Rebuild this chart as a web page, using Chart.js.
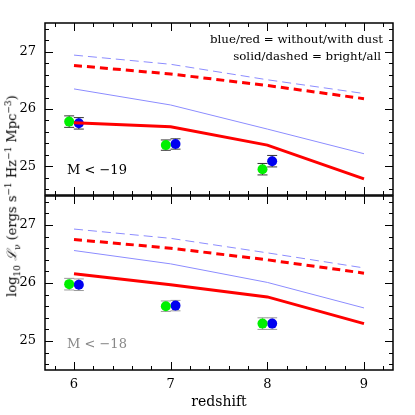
<!DOCTYPE html>
<html>
<head>
<meta charset="utf-8">
<script src="https://cdn.jsdelivr.net/npm/chart.js@4.4.1/dist/chart.umd.min.js"></script>
<style>
	body { margin: 0; background: #fff; }
	#wrap { position: relative; width: 415px; height: 415px; overflow: hidden; }
	canvas { position: absolute; left: 0; }
	#ylabel {
		position: absolute; left: 12px; top: 196px;
		transform: translate(-50%, -50%) rotate(-90deg);
		white-space: nowrap; font: 13px 'DejaVu Serif'; color: #000;
	}
	#ylabel sub, #ylabel sup { font-size: 9px; }
</style>
</head>
<body>
<div id="wrap">
	<canvas id="top" width="415" height="200" style="top:0"></canvas>
	<canvas id="bottom" width="415" height="225" style="top:190px"></canvas>
	<div id="ylabel">log<sub>10</sub> <i>ℒ</i><sub>ν</sub> (ergs s<sup>−1</sup> Hz<sup>−1</sup> Mpc<sup>−3</sup>)</div>
</div>
<script>
const redshifts = [6, 7, 8, 9]
const xTickValues = [6, 7, 8, 9]
const yTickValues = [25, 26, 27]

// M < -19
const allNoDust19 = [26.94, 26.78, 26.51, 26.27]
const allDust19 = [26.76, 26.61, 26.41, 26.18]
const brightNoDust19 = [26.35, 26.07, 25.65, 25.22]
const brightDust19 = [25.76, 25.69, 25.37, 24.78]

// M < -18
const allNoDust18 = [26.93, 26.77, 26.52, 26.26]
const allDust18 = [26.75, 26.60, 26.40, 26.17]
const brightNoDust18 = [26.56, 26.33, 26.01, 25.57]
const brightDust18 = [26.16, 25.97, 25.76, 25.30]

// наблюдения (зелёные / синие точки)
const greenZ = [5.95, 6.95, 7.95]
const blueZ = [6.05, 7.05, 8.05]
const green19 = [25.78, 25.37, 24.95]
const blue19 = [25.75, 25.39, 25.09]
const green18 = [25.98, 25.60, 25.30]
const blue18 = [25.97, 25.61, 25.30]
const err19 = [0.1, 0.09, 0.1]
const err18 = [0.1, 0.09, 0.1]

const FONT = 'DejaVu Serif'

function pts(xs, ys) {
	return xs.map((x, i) => ({ x, y: ys[i] }))
}

function buildDatasets(allNoDust, allDust, brightNoDust, brightDust, green, blue, err) {
	const line = (data, color, width, dash) => ({
		type: 'line', data: pts(redshifts, data), borderColor: color, borderWidth: width,
		borderDash: dash, pointRadius: 0, fill: false, tension: 0, order: 1,
	})
	const dots = (ys, xs, color) => ({
		type: 'scatter', data: pts(xs, ys), backgroundColor: color, borderColor: color,
		pointRadius: 5, borderWidth: 0, order: 2, errors: err,
	})
	return [
		line(allNoDust, '#8c8cff', 1, [9, 5]),
		line(allDust, '#ff0000', 3, [8, 5]),
		line(brightNoDust, '#8c8cff', 1, []),
		line(brightDust, '#ff0000', 3, []),
		dots(green, greenZ, '#00f000'),
		dots(blue, blueZ, '#0000f0'),
	]
}

// error bars + inward ticks + frame
const decor = {
	id: 'decor',
	beforeDatasetsDraw(chart) {
		const { ctx } = chart
		const { x, y } = chart.scales
		const barColor = chart.options.plugins.decor.barColor
		ctx.save()
		ctx.strokeStyle = barColor
		ctx.lineWidth = 1
		chart.data.datasets.forEach(ds => {
			if (!ds.errors) return
			ds.data.forEach((p, i) => {
				const px = x.getPixelForValue(p.x)
				const y0 = y.getPixelForValue(p.y - ds.errors[i])
				const y1 = y.getPixelForValue(p.y + ds.errors[i])
				ctx.beginPath()
				ctx.moveTo(px, y0); ctx.lineTo(px, y1)
				ctx.moveTo(px - 5, y0); ctx.lineTo(px + 5, y0)
				ctx.moveTo(px - 5, y1); ctx.lineTo(px + 5, y1)
				ctx.stroke()
			})
		})
		ctx.restore()
	},
	afterDraw(chart) {
		const { ctx, chartArea: a } = chart
		const { x, y } = chart.scales
		const opts = chart.options.plugins.decor
		ctx.save()
		ctx.strokeStyle = '#000'
		ctx.lineWidth = 1
		ctx.beginPath()
		for (let v = 5.8; v < 9.25; v += 0.2) {
			const r = Math.round(v * 10) / 10
			const len = Number.isInteger(r) ? 8 : 4
			const px = Math.round(x.getPixelForValue(r)) + 0.5
			ctx.moveTo(px, a.bottom); ctx.lineTo(px, a.bottom - len)
			ctx.moveTo(px, a.top); ctx.lineTo(px, a.top + len)
		}
		for (let v = 24.6; v < 27.45; v += 0.2) {
			const r = Math.round(v * 10) / 10
			const len = Number.isInteger(r) ? 8 : 4
			const py = Math.round(y.getPixelForValue(r)) + 0.5
			ctx.moveTo(a.left, py); ctx.lineTo(a.left + len, py)
			ctx.moveTo(a.right, py); ctx.lineTo(a.right - len, py)
		}
		ctx.stroke()
		ctx.lineWidth = 1.5
		ctx.strokeRect(a.left, a.top, a.right - a.left, a.bottom - a.top)

		opts.texts.forEach(t => {
			ctx.font = `${t.size}px ${FONT}`
			ctx.fillStyle = t.color
			ctx.textAlign = t.align
			ctx.textBaseline = 'middle'
			ctx.fillText(t.text, a.left + t.dx, a.top + t.dy)
		})
		ctx.restore()
	},
}

function noPad(s) {
	s.paddingTop = 0
	s.paddingBottom = 0
	s.paddingLeft = 0
	s.paddingRight = 0
}

function makeChart(id, datasets, padding, showX, barColor, texts) {
	return new Chart(document.getElementById(id), {
		data: { datasets },
		options: {
			responsive: false,
			animation: false,
			layout: { padding },
			plugins: {
				legend: { display: false },
				tooltip: { enabled: false },
				decor: { barColor, texts },
			},
			scales: {
				x: {
					type: 'linear', min: 5.7, max: 9.3,
					grid: { display: false, drawTicks: false },
					border: { display: false },
					afterBuildTicks: s => { s.ticks = xTickValues.map(value => ({ value })) },
					afterFit: s => { s.height = showX ? 45 : 0; noPad(s) },
					ticks: { display: showX, padding: 7, color: '#000', font: { family: FONT, size: 13 } },
					title: {
						display: showX, text: 'redshift', color: '#000',
						font: { family: FONT, size: 14 }, padding: { top: 0, bottom: 4 },
					},
				},
				y: {
					type: 'linear', min: 24.5, max: 27.5,
					grid: { display: false, drawTicks: false },
					border: { display: false },
					afterBuildTicks: s => { s.ticks = yTickValues.map(value => ({ value })) },
					afterFit: s => { s.width = 45; noPad(s) },
					ticks: { padding: 9, color: '#000', font: { family: FONT, size: 13 } },
				},
			},
		},
		plugins: [decor],
	})
}

makeChart('top',
	buildDatasets(allNoDust19, allDust19, brightNoDust19, brightDust19, green19, blue19, err19),
	{ top: 23, right: 22, bottom: 4, left: 0 }, false, '#333', [
		{ text: 'blue/red = without/with dust', dx: 338, dy: 17, size: 11.8, color: '#000', align: 'right' },
		{ text: 'solid/dashed = bright/all', dx: 336, dy: 34, size: 11.8, color: '#000', align: 'right' },
		{ text: 'M < −19', dx: 22, dy: 148, size: 13, color: '#000', align: 'left' },
	])

makeChart('bottom',
	buildDatasets(allNoDust18, allDust18, brightNoDust18, brightDust18, green18, blue18, err18),
	{ top: 6, right: 22, bottom: 0, left: 0 }, true, '#999', [
		{ text: 'M < −18', dx: 22, dy: 149, size: 13, color: '#888', align: 'left' },
	])
</script>
</body>
</html>
